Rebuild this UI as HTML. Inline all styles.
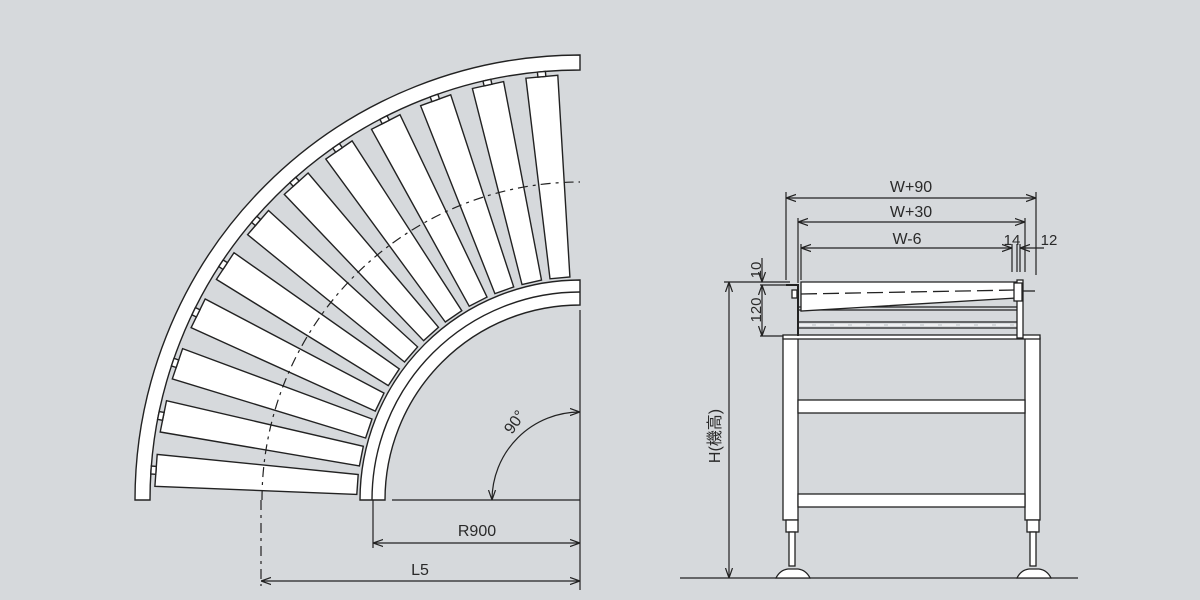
<!DOCTYPE html>
<html><head><meta charset="utf-8"><style>
html,body{margin:0;padding:0;background:#d6d9dc;}
svg{display:block;}
text{font-family:"Liberation Sans","Noto Sans CJK JP",sans-serif;fill:#2a2a2a;}
</style></head><body>
<svg id="s" width="1200" height="600" viewBox="0 0 1200 600" xmlns="http://www.w3.org/2000/svg">
<defs>
<marker id="a" viewBox="0 0 10 10" refX="10" refY="5" markerWidth="10" markerHeight="10" orient="auto-start-reverse" markerUnits="userSpaceOnUse"><path d="M0,1.5 L10,5 L0,8.5" fill="none" stroke="#222" stroke-width="1.2"/></marker>
</defs>
<rect width="1200" height="600" fill="#d6d9dc"/>
<g id="left" stroke="#222" stroke-width="1.4" fill="#fff">
<path d="M135,500 A445,445 0 0 1 580,55 L580,70 A430,430 0 0 0 150,500 Z"/>
<path d="M360,500 A220,220 0 0 1 580,280 L580,305 A195,195 0 0 0 385,500 Z"/>
<path d="M372,500 A208,208 0 0 1 580,292" fill="none"/>
<g id="rollers"></g>
<path d="M262,500 A318,318 0 0 1 580,182" fill="none" stroke-dasharray="10,5,3,5" stroke-width="1.2"/>
</g>
<g stroke="#222" stroke-width="1.2" fill="none">
<line x1="261" y1="500" x2="261" y2="586" stroke-dasharray="10,5,3,5"/>
<line x1="373" y1="500" x2="373" y2="548" />
<line x1="580" y1="310" x2="580" y2="590"/>
<line x1="392" y1="500" x2="580" y2="500"/>
<line x1="373" y1="543" x2="580" y2="543" marker-start="url(#a)" marker-end="url(#a)"/>
<line x1="261" y1="581" x2="580" y2="581" marker-start="url(#a)" marker-end="url(#a)"/>
<path d="M492,500 A88,88 0 0 1 580,412" marker-start="url(#a)" marker-end="url(#a)"/>
</g>
<text x="477" y="536" font-size="16" text-anchor="middle">R900</text>
<text x="420" y="575" font-size="16" text-anchor="middle">L5</text>
<text x="0" y="0" font-size="16" transform="translate(512,435) rotate(-55)">90°</text>

<g stroke="#222" stroke-width="1.3" fill="#fff">
<line x1="680" y1="578" x2="1078" y2="578" fill="none"/>
<rect x="783" y="338" width="15" height="182"/>
<rect x="1025" y="338" width="15" height="182"/>
<rect x="798" y="400" width="227" height="13"/>
<rect x="798" y="494" width="227" height="13"/>
<rect x="783" y="335" width="257" height="4"/>
<rect x="786" y="520" width="12" height="12"/>
<rect x="1027" y="520" width="12" height="12"/>
<rect x="789" y="532" width="6" height="34"/>
<rect x="1030" y="532" width="6" height="34"/>
<path d="M776,578 Q780,570 788,569 L798,569 Q806,570 810,578Z"/>
<path d="M1017,578 Q1021,570 1029,569 L1039,569 Q1047,570 1051,578Z"/>
<line x1="798" y1="307" x2="1022" y2="307"/>
<line x1="798" y1="310" x2="1022" y2="310"/>
<line x1="798" y1="322" x2="1022" y2="322"/>
<line x1="798" y1="328" x2="1022" y2="328"/>
<line x1="798" y1="325" x2="1022" y2="325" stroke="#fff" stroke-dasharray="14,4" stroke-width="1.3"/>
<polygon points="801,282 1016,282 1016,298 801,311"/>
<line x1="801" y1="294" x2="1016" y2="290" stroke-dasharray="16,6" fill="none"/>
<path d="M786,285 L798,285 L798,336" fill="none" stroke-width="2"/>
<rect x="1017" y="280" width="6" height="58"/>
<rect x="1014" y="283" width="8" height="18"/>
<line x1="1023" y1="291" x2="1035" y2="291"/>
<rect x="792" y="290" width="5" height="8"/>
</g>
<g stroke="#222" stroke-width="1.2" fill="none">
<line x1="786" y1="192" x2="786" y2="280"/>
<line x1="1036" y1="192" x2="1036" y2="275"/>
<line x1="798" y1="218" x2="798" y2="283"/>
<line x1="1025" y1="218" x2="1025" y2="272"/>
<line x1="801" y1="244" x2="801" y2="280"/>
<line x1="1012" y1="244" x2="1012" y2="272"/>
<line x1="1017" y1="244" x2="1017" y2="272"/>
<line x1="1020" y1="244" x2="1020" y2="272"/>
<line x1="786" y1="198" x2="1036" y2="198" marker-start="url(#a)" marker-end="url(#a)"/>
<line x1="798" y1="222" x2="1025" y2="222" marker-start="url(#a)" marker-end="url(#a)"/>
<line x1="801" y1="248" x2="1012" y2="248" marker-end="url(#a)" marker-start="url(#a)"/>
<line x1="1020" y1="248" x2="1044" y2="248" marker-start="url(#a)"/>
<line x1="724" y1="282" x2="790" y2="282"/>
<line x1="760" y1="285" x2="790" y2="285"/>
<line x1="760" y1="336" x2="783" y2="336"/>
<line x1="729" y1="282" x2="729" y2="578" marker-start="url(#a)" marker-end="url(#a)"/>
<line x1="762" y1="258" x2="762" y2="282" marker-end="url(#a)"/>
<line x1="762" y1="285" x2="762" y2="336" marker-start="url(#a)" marker-end="url(#a)"/>
</g>
<text x="911" y="192" font-size="16" text-anchor="middle">W+90</text>
<text x="911" y="217" font-size="16" text-anchor="middle">W+30</text>
<text x="907" y="244" font-size="16" text-anchor="middle">W-6</text>
<text x="1012" y="245" font-size="15" text-anchor="middle">14</text>
<text x="1049" y="245" font-size="15" text-anchor="middle">12</text>
<text font-size="15" text-anchor="middle" transform="translate(761,270) rotate(-90)">10</text>
<text font-size="15" text-anchor="middle" transform="translate(761,310) rotate(-90)">120</text>
<text font-size="16" text-anchor="middle" transform="translate(720,436) rotate(-90)">H(機高)</text>
</svg>
<script>
(function(){
var g=document.getElementById('rollers'),cx=580,cy=500,h='';
function P(r,t,o){var c=Math.cos(t),s=Math.sin(t);return [(cx-r*c+o*s).toFixed(1),(cy-r*s-o*c).toFixed(1)].join(',');}
for(var k=0;k<12;k++){
 var t=(4+7.35*k)*Math.PI/180, ri=223, ro=425;
 h+='<polygon points="'+P(ri,t,-10)+' '+P(ro,t,-16)+' '+P(ro,t,16)+' '+P(ri,t,10)+'"/>';
 h+='<polygon points="'+P(ro,t,-4)+' '+P(ro+5,t,-4)+' '+P(ro+5,t,4)+' '+P(ro,t,4)+'"/>';
}
g.innerHTML=h;
})();
</script>
</body></html>
